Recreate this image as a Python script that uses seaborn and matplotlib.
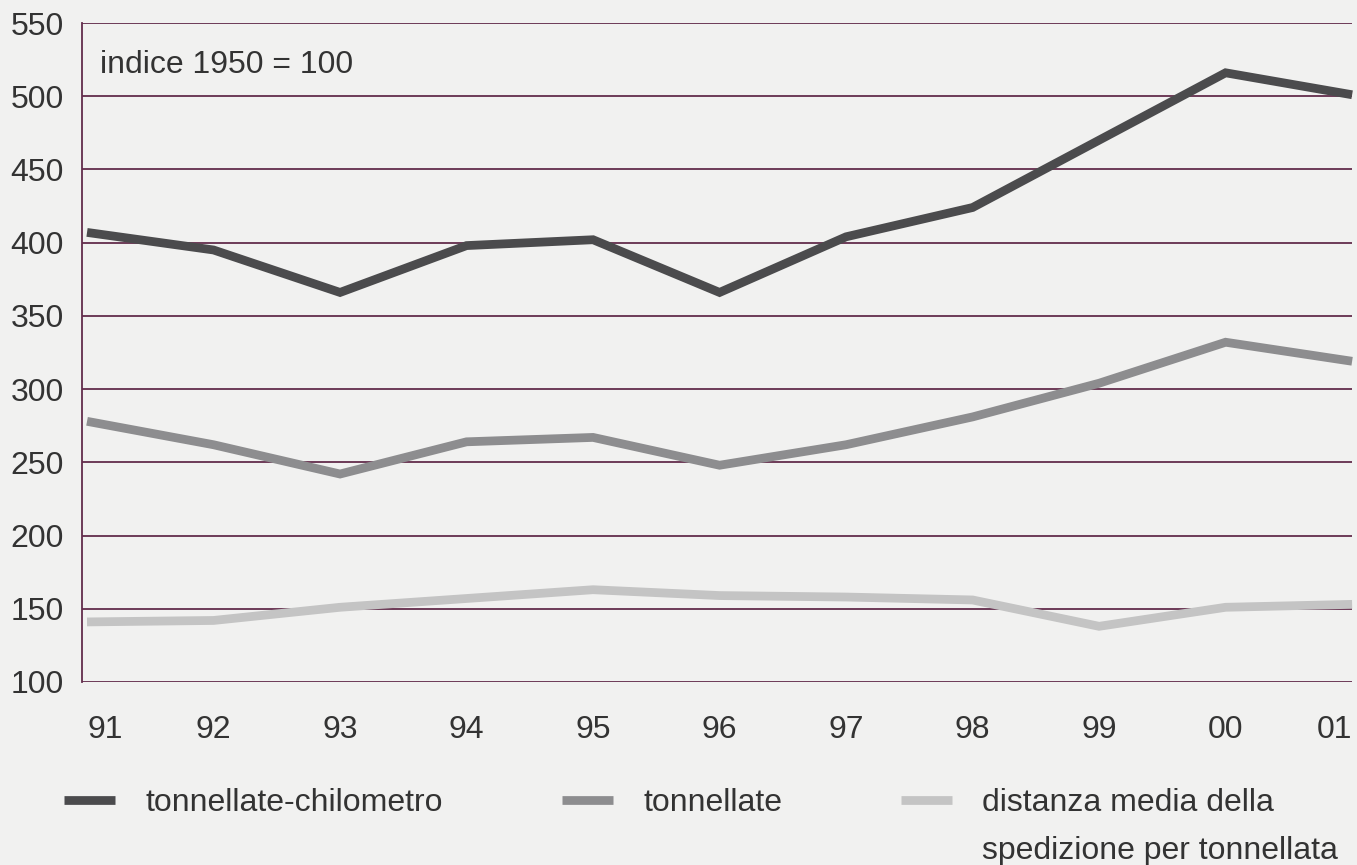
"""Indici del trasporto merci 1991-2001 (indice 1950 = 100)."""

import matplotlib.pyplot as plt
import pandas as pd
import seaborn as sns
from matplotlib.ticker import FixedLocator

YEARS = [1991, 1992, 1993, 1994, 1995, 1996, 1997, 1998, 1999, 2000, 2001]
YEAR_LABELS = ["91", "92", "93", "94", "95", "96", "97", "98", "99", "00", "01"]

TONNELLATE_KM = [407, 395, 366, 398, 402, 366, 404, 424, 470, 516, 501]
TONNELLATE = [278, 262, 242, 264, 267, 248, 262, 281, 304, 332, 319]
DISTANZA_MEDIA = [141, 142, 151, 157, 163, 159, 158, 156, 138, 151, 153]

SERIES = {
    "tonnellate-chilometro": TONNELLATE_KM,
    "tonnellate": TONNELLATE,
    "distanza media della": DISTANZA_MEDIA,
}
LABEL_EXTRA_LINE = "spedizione per tonnellata"
COLORS = ["#4b4b4d", "#8d8d8f", "#c4c4c4"]
BG = "#f1f1f0"
GRID = "#632c4c"
TEXT = "#333333"
FS = 23

rows = []
for name, values in SERIES.items():
    for year, value in zip(YEARS, values):
        rows.append({"anno": year, "indice": value, "serie": name})
df = pd.DataFrame(rows)

sns.set_style("white")
plt.rcParams["font.family"] = ["Liberation Sans", "DejaVu Sans"]

fig = plt.figure(figsize=(13.57, 8.65), dpi=100, facecolor=BG)
ax = fig.add_axes([0.0604, 0.2116, 0.936, 0.7618], facecolor=BG)

sns.lineplot(
    data=df,
    x="anno",
    y="indice",
    hue="serie",
    hue_order=list(SERIES),
    palette=COLORS,
    linewidth=6.3,
    legend=False,
    ax=ax,
    zorder=3,
)
for line in ax.lines:
    line.set_solid_joinstyle("miter")
    line.set_solid_capstyle("butt")
    line.set_clip_on(False)

ax.set_ylim(100, 550)
ax.set_xlim(1990.96, 2001.0)
ax.yaxis.set_major_locator(FixedLocator(range(100, 551, 50)))
ax.set_xticks(YEARS)
ax.set_xticklabels(YEAR_LABELS)
for v in range(100, 551, 50):
    ax.axhline(v, color=GRID, linewidth=1.3, zorder=1)

ax.tick_params(axis="y", length=0, pad=13, labelsize=FS, labelcolor=TEXT)
ax.tick_params(axis="x", length=0, pad=24, labelsize=FS, labelcolor=TEXT)
xlabels = ax.get_xticklabels()
xlabels[0].set_horizontalalignment("left")
xlabels[-1].set_horizontalalignment("right")
ax.set_xlabel("")
ax.set_ylabel("")
for side in ["top", "right", "bottom"]:
    ax.spines[side].set_visible(False)
ax.spines["left"].set_color(GRID)
ax.spines["left"].set_linewidth(1.3)

ax.text(0.0142, 0.936, "indice 1950 = 100", transform=ax.transAxes,
        fontsize=FS, color=TEXT, va="center", ha="left")

handles = [plt.Line2D([], [], color=c, linewidth=6.3, solid_capstyle="butt") for c in COLORS]
leg = fig.legend(
    handles,
    list(SERIES),
    loc="upper left",
    bbox_to_anchor=(0.047, 0.089),
    ncol=3,
    frameon=False,
    fontsize=FS,
    handlelength=1.6,
    handletextpad=0.95,
    columnspacing=3.72,
    borderpad=0,
    borderaxespad=0,
)
for t in leg.get_texts():
    t.set_color(TEXT)

# second line of the third legend label, placed under the first line
fig.canvas.draw()
bb = leg.get_texts()[2].get_window_extent().transformed(fig.transFigure.inverted())
fig.text(bb.x0, bb.y0 - 0.056, LABEL_EXTRA_LINE, fontsize=FS, color=TEXT,
         ha="left", va="bottom")

fig.savefig("out.png", dpi=100, facecolor=BG)
